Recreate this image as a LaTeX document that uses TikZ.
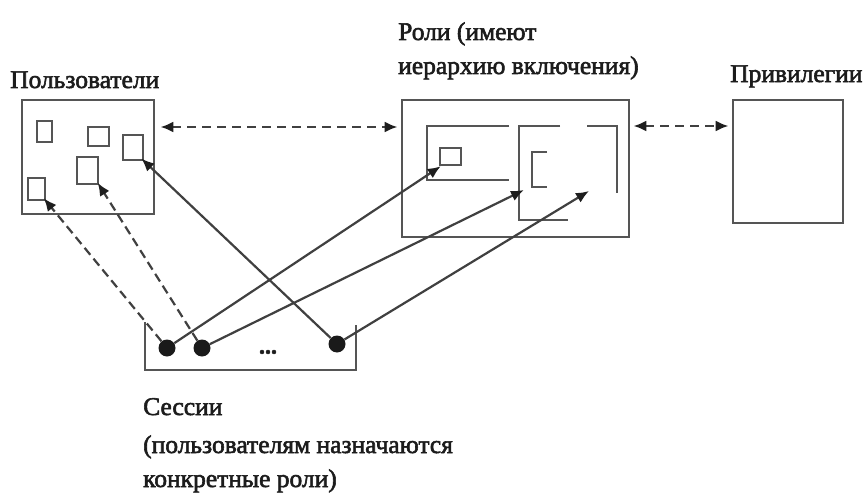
\documentclass[tikz,border=0pt]{standalone}
\usepackage{fontspec}
\setmainfont{Liberation Serif}[FakeBold=2.2]
\usetikzlibrary{arrows.meta,calc}
\definecolor{boxc}{HTML}{555555}
\definecolor{arrc}{HTML}{404040}
\definecolor{tipc}{HTML}{1E1E1E}
\definecolor{dotc}{HTML}{1A1A1A}
\definecolor{txtc}{HTML}{1C1C1C}
\begin{document}
\begin{tikzpicture}[x=1pt,y=-1pt,
  bigbox/.style={draw=boxc,line width=2.8pt,inner sep=0pt},
  smallsq/.style={draw=boxc,line width=2.5pt,inner sep=0pt},
  inner/.style={draw=boxc,line width=2.5pt},
  lbl/.style={font=\fontsize{25.5}{34}\selectfont,inner sep=0pt,text=txtc,anchor=base west},
  tipA/.tip={Latex[length=13pt,width=11pt,color=tipc]},
  arr/.style={draw=arrc,line width=2.2pt,-tipA},
  darr/.style={arr,dash pattern=on 9pt off 5pt},
  ddarr/.style={draw=arrc,line width=2.4pt,dash pattern=on 9pt off 6pt,tipA-tipA},
  sdot/.style={circle,fill=dotc,minimum size=17pt,inner sep=0pt}]
\useasboundingbox[fill=white] (0,0) rectangle (865,495);

% labels
\node[lbl] (lu) at (10,88) {Пользователи};
\node[lbl] (lr1) at (398,40) {Роли (имеют};
\node[lbl] (lr2) at (398,74) {иерархию включения)};
\node[lbl] (lp) at (730,82) {Привилегии};
\node[lbl] (ls1) at (143,415) {Сессии};
\node[lbl] (ls2) at (143,453) {(пользователям назначаются};
\node[lbl] (ls3) at (143,487) {конкретные роли)};

% users box
\node[bigbox,minimum width=132pt,minimum height=114pt] (users) at (88,157) {};
\node[smallsq,minimum width=15pt,minimum height=21pt] (u1) at (44.5,131.5) {};
\node[smallsq,minimum width=21pt,minimum height=19pt] (u2) at (98.5,136.5) {};
\node[smallsq,minimum width=20pt,minimum height=25pt] (u3) at (133,147.5) {};
\node[smallsq,minimum width=21pt,minimum height=27pt] (u4) at (87.5,170.5) {};
\node[smallsq,minimum width=17pt,minimum height=22pt] (u5) at (36.5,189) {};

% roles box
\node[bigbox,minimum width=227pt,minimum height=137pt] (roles) at (515.5,168.5) {};
\draw[inner] (509,126) -- (427,126) -- (427,180) -- (509,180);
\node[smallsq,minimum width=21pt,minimum height=17pt] (rs) at (450.5,156.5) {};
\draw[inner] (560,126) -- (519,126) -- (519,220) -- (568,220);
\draw[inner] (547,152) -- (532,152) -- (532,187) -- (547,187);
\draw[inner] (587,126) -- (617,126) -- (617,193);
\coordinate (b2) at (524,190);
\coordinate (b3) at (589,191);

% privileges box
\node[bigbox,minimum width=110pt,minimum height=123pt] (priv) at (788,161.5) {};

% sessions
\draw[draw=boxc,line width=2.8pt] (145,322) -- (145,370) -- (356,370) -- (356,325);
\node[sdot] (d1) at (167,348) {};
\node[sdot] (d2) at (202,348) {};
\node[sdot] (d3) at (337,344) {};
\node[font=\fontsize{24}{24}\selectfont\bfseries,inner sep=0pt,text=txtc] (dots) at (268,352) {...};

% top dashed arrows
\coordinate (y1) at (0,127);
\coordinate (y2) at (0,126);
\draw[ddarr,shorten <=5pt,shorten >=3pt] (users.east |- y1) -- (roles.west |- y1);
\draw[ddarr,shorten <=3pt,shorten >=3pt] (roles.east |- y2) -- (priv.west |- y2);

% session arrows
\draw[darr,shorten >=-4pt] (d1) -- (u5.south east);
\draw[darr,shorten >=-3pt] (d2) -- (u4.south east);
\draw[arr,shorten >=-4pt] (d3) -- (u3.south east);
\draw[arr] (d1) -- ([xshift=2pt]rs.south west);
\draw[arr] (d2) -- (b2);
\draw[arr] (d3) -- (b3);
\end{tikzpicture}
\end{document}
